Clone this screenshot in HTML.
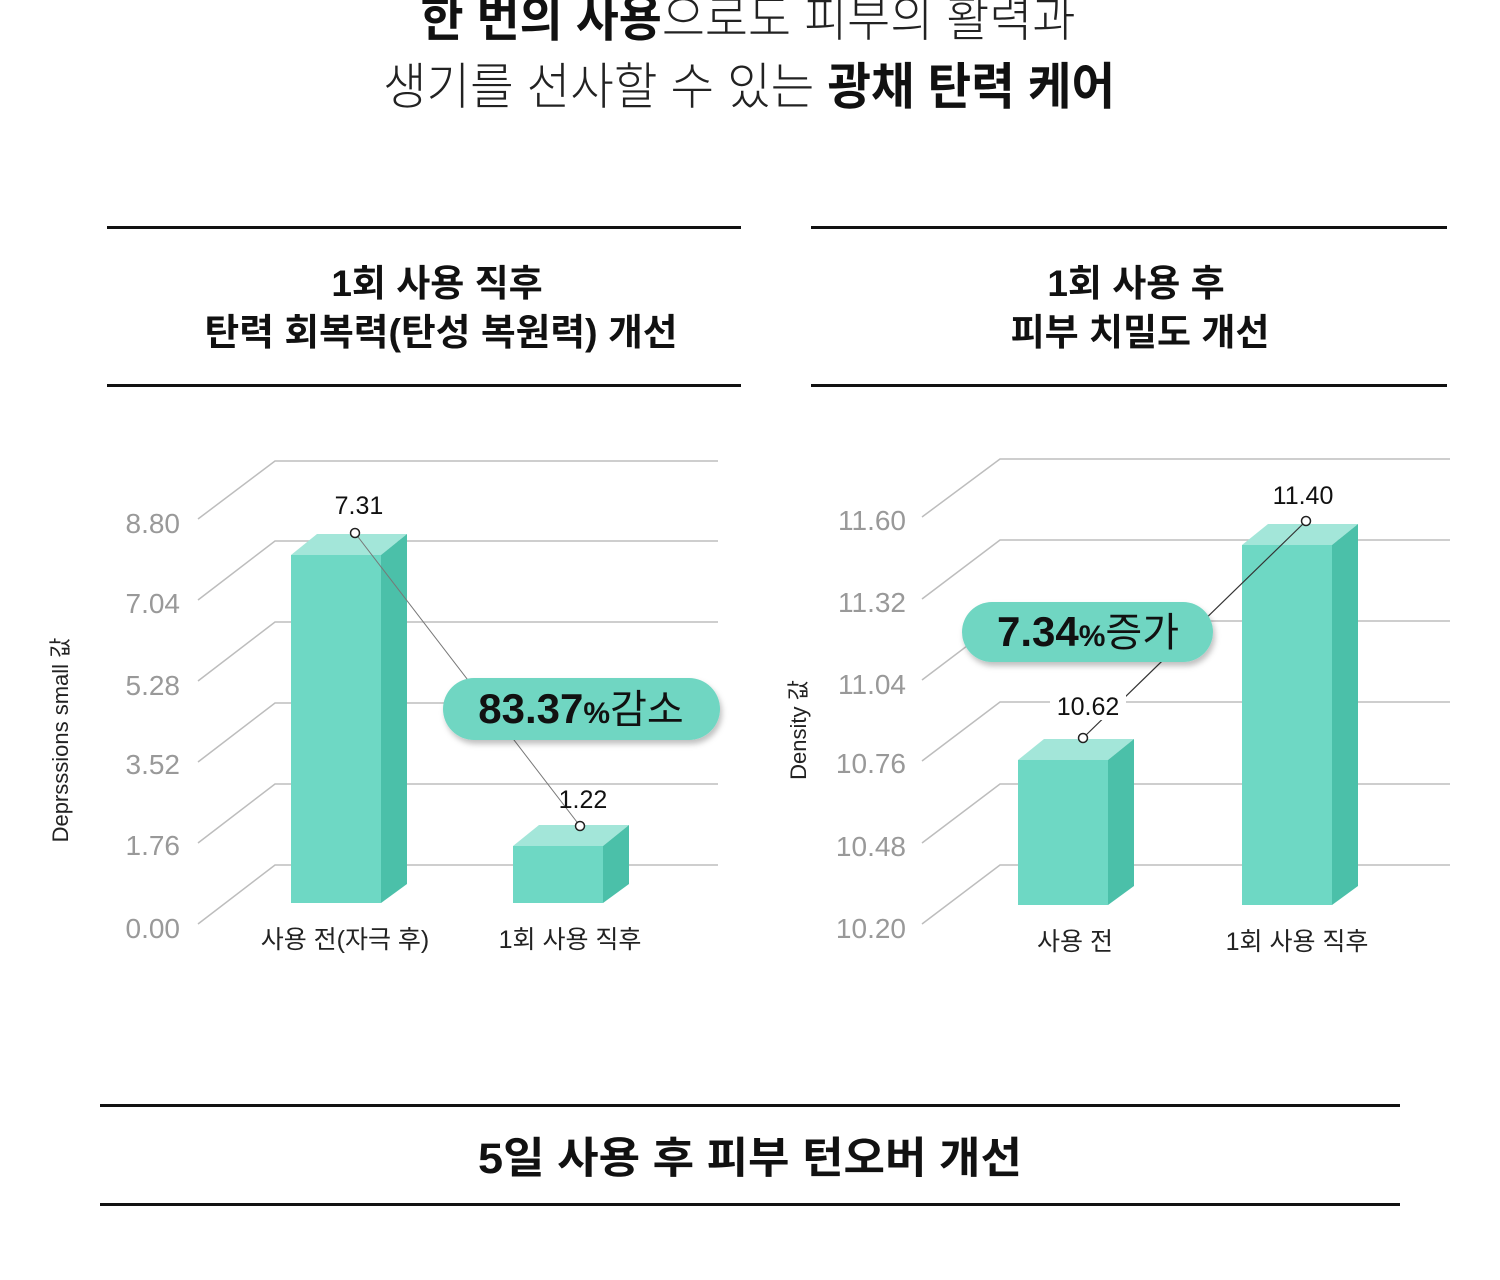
<!DOCTYPE html>
<html><head><meta charset="utf-8"><style>
html,body{margin:0;padding:0;background:#fff;}
svg{display:block;}
text{font-family:"Liberation Sans","Noto Sans CJK KR",sans-serif;}
</style></head><body>
<svg width="1500" height="1280" viewBox="0 0 1500 1280" xmlns="http://www.w3.org/2000/svg">
<defs>
<filter id="sh" x="-10%" y="-30%" width="120%" height="160%"><feDropShadow dx="2" dy="4" stdDeviation="3" flood-color="#000" flood-opacity="0.25"/></filter>
</defs>
<text x="748" y="36" text-anchor="middle" font-size="50" fill="#222" textLength="655" lengthAdjust="spacingAndGlyphs"><tspan font-weight="bold" fill="#111">한 번의 사용</tspan><tspan font-weight="300">으로도 피부의 활력과</tspan></text>
<text x="749" y="104" text-anchor="middle" font-size="50" fill="#222" textLength="732" lengthAdjust="spacingAndGlyphs"><tspan font-weight="300">생기를 선사할 수 있는 </tspan><tspan font-weight="bold" fill="#111">광채 탄력 케어</tspan></text>

<rect x="107" y="226" width="634" height="3" fill="#111"/>
<rect x="107" y="384" width="634" height="3" fill="#111"/>
<rect x="811" y="226" width="636" height="3" fill="#111"/>
<rect x="811" y="384" width="636" height="3" fill="#111"/>
<text x="437" y="296" text-anchor="middle" font-size="37" font-weight="bold" fill="#111">1회 사용 직후</text>
<text x="441" y="345" text-anchor="middle" font-size="37" font-weight="bold" fill="#111" textLength="473" lengthAdjust="spacingAndGlyphs">탄력 회복력(탄성 복원력) 개선</text>
<text x="1136" y="296" text-anchor="middle" font-size="37" font-weight="bold" fill="#111">1회 사용 후</text>
<text x="1140" y="345" text-anchor="middle" font-size="37" font-weight="bold" fill="#111">피부 치밀도 개선</text>

<g stroke="#bdbdbd" stroke-width="1.5" fill="none">
<path d="M198 519 L275 461 H718"/>
<path d="M198 600 L275 541 H718"/>
<path d="M198 681 L275 622 H718"/>
<path d="M198 762 L275 703 H718"/>
<path d="M198 843 L275 784 H718"/>
<path d="M198 924 L275 865 H718"/>
</g>
<g font-size="28" fill="#999" text-anchor="end">
<text x="180" y="533">8.80</text>
<text x="180" y="613">7.04</text>
<text x="180" y="695">5.28</text>
<text x="180" y="774">3.52</text>
<text x="180" y="855">1.76</text>
<text x="180" y="938">0.00</text>
</g>
<text transform="translate(68,740) rotate(-90)" text-anchor="middle" font-size="22" fill="#222">Deprsssions small 값</text>
<polygon points="291,555 381,555 407,534 317,534" fill="#a3e6d9"/>
<polygon points="381,555 407,534 407,884 381,903" fill="#4bc0a9"/>
<rect x="291" y="555" width="90" height="348" fill="#6ed8c4"/>
<polygon points="513,846 603,846 629,825 539,825" fill="#a3e6d9"/>
<polygon points="603,846 629,825 629,884 603,903" fill="#4bc0a9"/>
<rect x="513" y="846" width="90" height="57" fill="#6ed8c4"/>
<line x1="355" y1="533" x2="580" y2="826" stroke="#777" stroke-width="1"/>
<circle cx="355" cy="533" r="4.5" fill="#fff" stroke="#222" stroke-width="1.5"/>
<circle cx="580" cy="826" r="4.5" fill="#fff" stroke="#222" stroke-width="1.5"/>
<text x="359" y="514" text-anchor="middle" font-size="25" fill="#111">7.31</text>
<text x="583" y="808" text-anchor="middle" font-size="25" fill="#111">1.22</text>
<rect x="443" y="678" width="277" height="62" rx="31" fill="#6fd6c2" filter="url(#sh)"/>
<text x="581" y="723" text-anchor="middle" font-size="40" fill="#111"><tspan font-weight="bold" font-size="42">83.37</tspan><tspan font-weight="bold" font-size="30">%</tspan><tspan>감소</tspan></text>
<text x="345" y="948" text-anchor="middle" font-size="25" fill="#222">사용 전(자극 후)</text>
<text x="570" y="948" text-anchor="middle" font-size="25" fill="#222">1회 사용 직후</text>

<g stroke="#bdbdbd" stroke-width="1.5" fill="none">
<path d="M922 517 L1000 459 H1450"/>
<path d="M922 599 L1000 540 H1450"/>
<path d="M922 680 L1000 621 H1450"/>
<path d="M922 761 L1000 702 H1450"/>
<path d="M922 843 L1000 784 H1450"/>
<path d="M922 924 L1000 865 H1450"/>
</g>
<g font-size="28" fill="#999" text-anchor="end">
<text x="906" y="530">11.60</text>
<text x="906" y="612">11.32</text>
<text x="906" y="694">11.04</text>
<text x="906" y="773">10.76</text>
<text x="906" y="856">10.48</text>
<text x="906" y="938">10.20</text>
</g>
<text transform="translate(806,730) rotate(-90)" text-anchor="middle" font-size="22" fill="#222">Density 값</text>
<polygon points="1018,760 1108,760 1134,739 1044,739" fill="#a3e6d9"/>
<polygon points="1108,760 1134,739 1134,886 1108,905" fill="#4bc0a9"/>
<rect x="1018" y="760" width="90" height="145" fill="#6ed8c4"/>
<polygon points="1242,545 1332,545 1358,524 1268,524" fill="#a3e6d9"/>
<polygon points="1332,545 1358,524 1358,886 1332,905" fill="#4bc0a9"/>
<rect x="1242" y="545" width="90" height="360" fill="#6ed8c4"/>
<line x1="1083" y1="738" x2="1306" y2="521" stroke="#333" stroke-width="1.2"/>
<circle cx="1083" cy="738" r="4.5" fill="#fff" stroke="#222" stroke-width="1.5"/>
<circle cx="1306" cy="521" r="4.5" fill="#fff" stroke="#222" stroke-width="1.5"/>
<rect x="1050" y="692" width="76" height="28" fill="#fff"/>
<text x="1088" y="715" text-anchor="middle" font-size="25" fill="#111">10.62</text>
<text x="1303" y="504" text-anchor="middle" font-size="25" fill="#111">11.40</text>
<rect x="962" y="602" width="251" height="60" rx="30" fill="#6fd6c2" filter="url(#sh)"/>
<text x="1088" y="646" text-anchor="middle" font-size="40" fill="#111"><tspan font-weight="bold" font-size="42">7.34</tspan><tspan font-weight="bold" font-size="30">%</tspan><tspan>증가</tspan></text>
<text x="1075" y="950" text-anchor="middle" font-size="25" fill="#222">사용 전</text>
<text x="1297" y="950" text-anchor="middle" font-size="25" fill="#222">1회 사용 직후</text>

<rect x="100" y="1104" width="1300" height="3" fill="#111"/>
<rect x="100" y="1203" width="1300" height="3" fill="#111"/>
<text x="750" y="1173" text-anchor="middle" font-size="43" font-weight="bold" fill="#111" textLength="544" lengthAdjust="spacingAndGlyphs">5일 사용 후 피부 턴오버 개선</text>
</svg>
</body></html>
